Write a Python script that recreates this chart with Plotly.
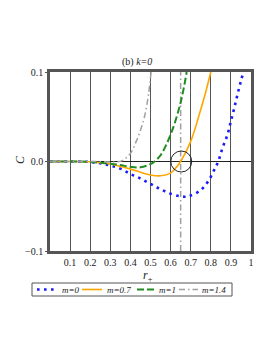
import plotly.graph_objects as go

# ---- data ----
x_m0 = [0.0, 0.1, 0.2, 0.25, 0.3, 0.35, 0.4, 0.45, 0.5, 0.55, 0.6, 0.65, 0.68, 0.7, 0.75, 0.79, 0.817, 0.837, 0.858, 0.883, 0.9, 0.917, 0.933, 0.95, 0.965]
y_m0 = [0.0, 0.0, -0.0005, -0.002, -0.0045, -0.008, -0.014, -0.019, -0.025, -0.031, -0.036, -0.039, -0.0392, -0.038, -0.032, -0.021, -0.0094, 0.0, 0.015, 0.03, 0.045, 0.06, 0.075, 0.09, 0.102]

x_m07 = [0.0, 0.1, 0.2, 0.3, 0.4, 0.45, 0.5, 0.55, 0.6, 0.63, 0.65, 0.7, 0.742, 0.775, 0.8]
y_m07 = [0.0, 0.0, -0.0003, -0.0028, -0.0085, -0.012, -0.015, -0.016, -0.013, -0.006, 0.0, 0.0225, 0.052, 0.078, 0.1]

x_m1 = [0.0, 0.1, 0.2, 0.3, 0.35, 0.4, 0.45, 0.5, 0.52, 0.55, 0.6, 0.65, 0.68]
y_m1 = [0.0, 0.0, -0.0005, -0.0025, -0.004, -0.006, -0.0065, -0.003, 0.0, 0.007, 0.03, 0.066, 0.1]

x_m14 = [0.0, 0.1, 0.2, 0.3, 0.33, 0.36, 0.4, 0.43, 0.45, 0.47, 0.49, 0.503]
y_m14 = [0.0, 0.0, 0.0, -0.0005, -0.0005, 0.001, 0.009, 0.023, 0.035, 0.05, 0.075, 0.1]

vline_x = [0.65, 0.65]
vline_y = [-0.1, 0.1]

circle_center = (0.653, 0.0)
circle_radius_px = 10.5

series_names = ["m=0", "m=0.7", "m=1", "m=1.4"]

x_ticks = [0.1, 0.2, 0.3, 0.4, 0.5, 0.6, 0.7, 0.8, 0.9, 1.0]
x_ticklabels = ["0.1", "0.2", "0.3", "0.4", "0.5", "0.6", "0.7", "0.8", "0.9", "1"]
y_ticks = [-0.1, 0.0, 0.1]
y_ticklabels = ["\u22120.1", "0.0", "0.1"]

FONT = "Liberation Serif"
OFF = 8  # default page body margin
W, H = 273 - OFF, 353 - OFF
# plot area in page pixels (as seen in the reference)
PL, PR, PT, PB = 50, 251, 72, 251
ML, MR, MT, MB = PL - OFF, (W + OFF) - PR, PT - OFF, (H + OFF) - PB


def px2x(px):
    return (px - PL) / (PR - PL)


def py2y(py):
    return (PB - py) / (PB - PT)


styles = [
    dict(color="#1a1aff", width=2.6, dash="2.6px,4.4px"),
    dict(color="#ffa500", width=1.6, dash="solid"),
    dict(color="#228b22", width=2, dash="7px,3px"),
    dict(color="#a0a0a0", width=1.5, dash="6px,3px,1.5px,3px"),
]
series = [(x_m0, y_m0), (x_m07, y_m07), (x_m1, y_m1), (x_m14, y_m14)]

fig = go.Figure()

fig.add_trace(go.Scatter(
    x=vline_x, y=vline_y, mode="lines", showlegend=False,
    line=dict(color="#a0a0a0", width=1.5, dash="6px,3px,1.5px,3px"),
    hoverinfo="skip"))

for (xs, ys), name, st in zip(series, series_names, styles):
    fig.add_trace(go.Scatter(x=xs, y=ys, mode="lines", name=name,
                             line_shape="spline", line=st, showlegend=False))

# circle annotation
fig.add_shape(type="circle", xref="x", yref="y",
              xsizemode="pixel", ysizemode="pixel",
              xanchor=circle_center[0], yanchor=circle_center[1],
              x0=-circle_radius_px, x1=circle_radius_px,
              y0=-circle_radius_px, y1=circle_radius_px,
              line=dict(color="#222222", width=1))

# custom legend (box, symbols, labels)
leg_box = (32, 283, 232, 296)
leg_sym = [(37, 58), (82, 102), (137, 155), (179, 198)]
leg_txt = [60, 105, 157, 200]
leg_cy = 289.5

fig.add_shape(type="rect", xref="paper", yref="paper",
              x0=px2x(leg_box[0]), x1=px2x(leg_box[2]),
              y0=py2y(leg_box[1]), y1=py2y(leg_box[3]),
              line=dict(color="#555555", width=1), fillcolor="white")

annotations = []
for (sx0, sx1), tx, name, st in zip(leg_sym, leg_txt, series_names, styles):
    fig.add_shape(type="line", xref="paper", yref="paper",
                  x0=px2x(sx0), x1=px2x(sx1), y0=py2y(leg_cy), y1=py2y(leg_cy),
                  line=dict(color=st["color"], width=st["width"], dash=st["dash"]))
    annotations.append(dict(text="<i>%s</i>" % name, x=px2x(tx), y=py2y(leg_cy),
                            xref="paper", yref="paper", xanchor="left", yanchor="middle",
                            showarrow=False, font=dict(size=9, family=FONT, color="#222222")))

annotations += [
    dict(text="(b) <i>k=0</i>", x=px2x(137), y=py2y(62), xref="paper", yref="paper",
         xanchor="center", yanchor="middle",
         showarrow=False, font=dict(size=10, family=FONT, color="#222222")),
    dict(text="<i>r</i><sub>+</sub>", x=px2x(148), y=py2y(276), xref="paper", yref="paper",
         xanchor="center", yanchor="middle",
         showarrow=False, font=dict(size=12, family=FONT, color="#222222")),
    dict(text="<i>C</i>", x=px2x(20), y=py2y(160), xref="paper", yref="paper",
         xanchor="center", yanchor="middle",
         showarrow=False, textangle=-90, font=dict(size=12, family=FONT, color="#222222")),
]

fig.update_layout(
    width=W, height=H,
    margin=dict(l=ML, r=MR, t=MT, b=MB, autoexpand=False),
    paper_bgcolor="white", plot_bgcolor="white",
    font=dict(family=FONT, size=10, color="#222222"),
    showlegend=False,
    annotations=annotations,
)

fig.update_xaxes(range=[0, 1.0], tickvals=x_ticks, ticktext=x_ticklabels,
                 showgrid=True, gridcolor="#555555", gridwidth=1,
                 zeroline=False, showline=True, linecolor="#555555", linewidth=2.5, mirror=True,
                 ticks="", tickfont=dict(size=10, family=FONT), fixedrange=True)
fig.update_yaxes(range=[-0.1, 0.1], tickvals=y_ticks, ticktext=y_ticklabels,
                 showgrid=False, zeroline=True, zerolinecolor="#222222", zerolinewidth=1,
                 showline=True, linecolor="#555555", linewidth=2.5, mirror=True,
                 ticks="outside", ticklen=2, tickcolor="#555555",
                 tickfont=dict(size=10, family=FONT), fixedrange=True)

fig.write_html("out.html")
